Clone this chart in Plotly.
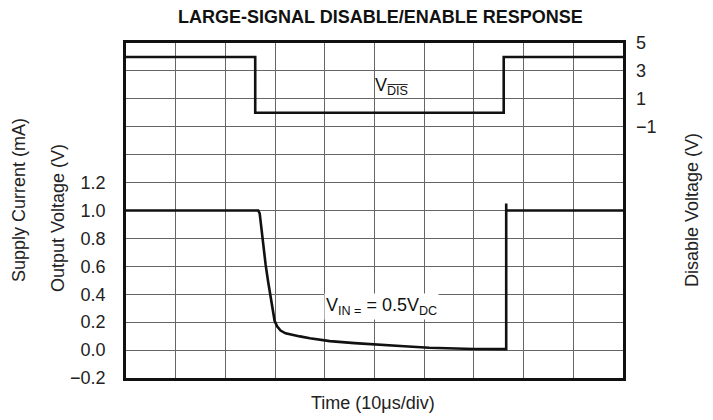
import plotly.graph_objects as go

# Time axis: 10 divisions of 10 µs
time_major = [0, 10, 20, 30, 40, 50, 60, 70, 80, 90, 100]

# Disable pin voltage (V) - step low then high again
vdis_t = [0, 26, 26, 76, 76, 100]
vdis_v = [4, 4, 0, 0, 4, 4]

# Output voltage (V) during disable / enable
vout_t = [0, 26.6, 26.9, 27.2, 27.6, 28.1, 28.6, 29.1, 29.5, 29.9, 30.4, 31.1,
          32.1, 33.5, 35.0, 37.0, 41.0, 46.0, 51.0, 56.0, 61.0, 66.0, 70.0,
          76.5, 76.5, 76.5, 100]
vout_v = [1.0, 1.0, 0.98, 0.88, 0.73, 0.61, 0.49, 0.38, 0.28, 0.21, 0.17, 0.14,
          0.12, 0.107, 0.098, 0.085, 0.064, 0.05, 0.037, 0.027, 0.017, 0.011, 0.008,
          0.007, 1.05, 1.0, 1.0]

# Left axis: labelled ticks on the lower part, plain gridlines above
left_vals = [-0.2, 0.0, 0.2, 0.4, 0.6, 0.8, 1.0, 1.2]
left_text = ["\u22120.2", "0.0", "0.2", "0.4", "0.6", "0.8", "1.0", "1.2"]
upper_grid = [1.4, 1.6, 1.8, 2.0, 2.2]

# Right axis: disable voltage labels
right_vals = [5, 3, 1, -1]
right_text = ["5", "3", "1", "\u22121"]

FONT = "Liberation Sans, Arial, sans-serif"
GRID = "#666666"
FS = 18

fig = go.Figure()
fig.add_trace(go.Scatter(x=vout_t, y=vout_v, mode="lines",
                         line=dict(color="#111111", width=2.6),
                         showlegend=False, hoverinfo="skip"))
fig.add_trace(go.Scatter(x=vdis_t, y=vdis_v, mode="lines", yaxis="y2",
                         line=dict(color="#111111", width=2.6),
                         showlegend=False, hoverinfo="skip"))

fig.update_layout(
    width=713, height=420,
    margin=dict(l=126, r=90, t=43, b=42),
    paper_bgcolor="white", plot_bgcolor="white",
    font=dict(family=FONT, size=FS, color="#222222"),
    xaxis=dict(range=[0, 100], tickvals=time_major, showticklabels=False,
               showgrid=True, gridcolor=GRID, gridwidth=1, zeroline=False,
               showline=True, linecolor="#111111", linewidth=2.5, mirror=True,
               ticks=""),
    yaxis=dict(range=[-0.2, 2.2], tickvals=left_vals, ticktext=left_text,
               showgrid=True, gridcolor=GRID, gridwidth=1, zeroline=False,
               showline=True, linecolor="#111111", linewidth=2.5, mirror=True,
               ticks="", ticklabelstandoff=14,
               minor=dict(tickvals=upper_grid, showgrid=True, gridcolor=GRID,
                          gridwidth=1, ticks="")),
    yaxis2=dict(range=[-19, 5], tickvals=right_vals, ticktext=right_text,
                overlaying="y", side="right", showgrid=False, zeroline=False,
                showline=False, ticks="", ticklabelstandoff=12),
)

annotations = [
    dict(text="<b>LARGE-SIGNAL DISABLE/ENABLE RESPONSE</b>", x=380, y=17,
         xref="paper", yref="paper", yanchor="middle", showarrow=False,
         font=dict(size=FS, color="#111111")),
    dict(text="Time (10\u03bcs/div)", x=373, y=403, xref="paper", yref="paper",
         yanchor="middle", showarrow=False, font=dict(size=FS)),
    dict(text="Supply Current (mA)", x=19, y=200, xref="paper", yref="paper",
         textangle=-90, showarrow=False, font=dict(size=FS)),
    dict(text="Output Voltage (V)", x=58, y=218, xref="paper", yref="paper",
         textangle=-90, showarrow=False, font=dict(size=FS)),
    dict(text="Disable Voltage (V)", x=692, y=210, xref="paper", yref="paper",
         textangle=-90, showarrow=False, font=dict(size=FS)),
    dict(text="V<sub>D\u0305I\u0305S\u0305</sub>", x=53.5, y=1.9, xref="x", yref="y2",
         showarrow=False, font=dict(size=FS, color="#111111")),
    dict(text="V<sub>IN =</sub> = 0.5V<sub>DC</sub>", x=51.5, y=0.31, xref="x", yref="y",
         showarrow=False, bgcolor="white", font=dict(size=FS, color="#111111")),
]
# side and title labels are placed by pixel position; convert to paper fractions
plot_w, plot_h = 713 - 126 - 90, 420 - 43 - 42
for a in annotations:
    if a["xref"] == "paper":
        a["x"] = (a["x"] - 126) / plot_w
        a["xanchor"] = "center"
        a["y"] = 1 + (43 - a["y"]) / plot_h
fig.update_layout(annotations=annotations)

fig.write_html("out.html")
